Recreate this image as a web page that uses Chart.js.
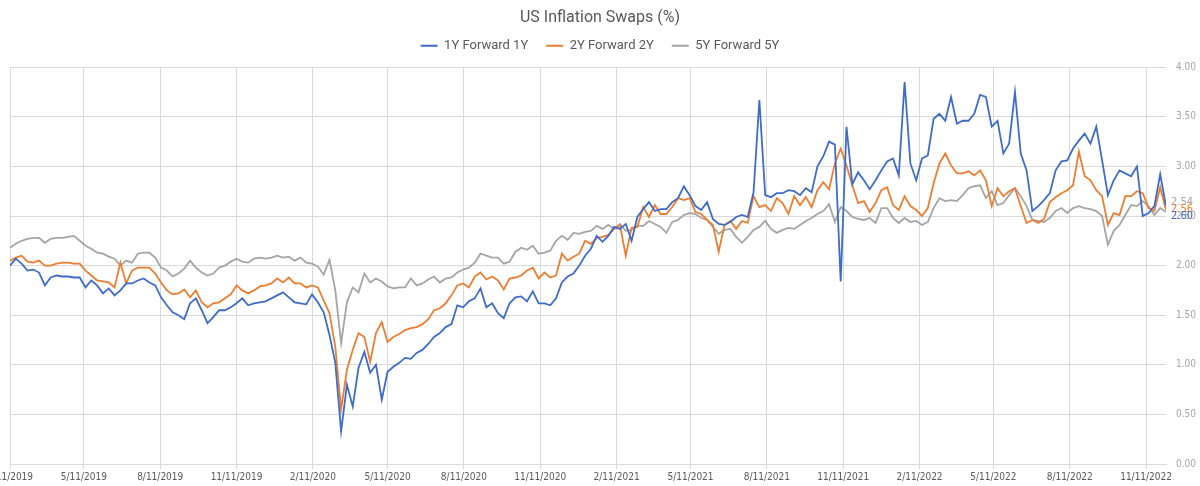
<!DOCTYPE html>
<html>
<head>
<meta charset="utf-8">
<script src="https://cdn.jsdelivr.net/npm/chart.js@4.4.1/dist/chart.umd.min.js"></script>
<style>
html,body{margin:0;padding:0;background:#fff;}
#swapChart{display:block;}
</style>
</head>
<body>
<canvas id="swapChart" width="1200" height="486"></canvas>
<script>

// weekly fixings, first week starts here
const startDate = "2019-02-11";

const seriesNames = ["1Y Forward 1Y", "2Y Forward 2Y", "5Y Forward 5Y"];

const oneYFwd1Y = [
2.00,2.07,2.02,1.95,1.96,1.93,1.80,1.88,1.90,1.89,
1.89,1.88,1.88,1.78,1.85,1.80,1.72,1.77,1.70,1.75,
1.82,1.82,1.85,1.87,1.83,1.80,1.68,1.60,1.53,1.50,
1.46,1.62,1.67,1.55,1.42,1.48,1.55,1.55,1.58,1.62,
1.67,1.60,1.62,1.63,1.64,1.67,1.70,1.73,1.68,1.63,
1.62,1.61,1.71,1.63,1.53,1.30,1.02,0.33,0.80,0.58,
0.97,1.13,0.92,1.00,0.65,0.93,0.98,1.02,1.07,1.06,
1.12,1.15,1.21,1.28,1.32,1.38,1.41,1.60,1.58,1.64,
1.67,1.77,1.58,1.62,1.52,1.47,1.62,1.68,1.69,1.64,
1.74,1.62,1.62,1.60,1.67,1.83,1.89,1.92,2.00,2.10,
2.17,2.30,2.24,2.30,2.39,2.37,2.42,2.25,2.49,2.57,
2.64,2.55,2.57,2.57,2.64,2.68,2.80,2.71,2.60,2.56,
2.64,2.47,2.42,2.41,2.44,2.49,2.51,2.49,2.74,3.67,
2.71,2.69,2.73,2.73,2.76,2.75,2.71,2.78,2.74,3.00,
3.10,3.25,3.22,1.84,3.40,2.82,2.94,2.86,2.77,2.86,
2.96,3.05,3.08,2.91,3.85,3.03,2.86,3.08,3.11,3.48,
3.53,3.46,3.70,3.43,3.46,3.46,3.53,3.72,3.70,3.40,
3.46,3.13,3.23,3.75,3.13,2.96,2.55,2.60,2.66,2.73,
2.96,3.05,3.06,3.18,3.26,3.33,3.23,3.40,3.06,2.71,
2.86,2.96,2.93,2.90,3.00,2.50,2.53,2.60,2.92,2.60
];

const twoYFwd2Y = [
2.05,2.08,2.10,2.04,2.03,2.05,2.00,2.00,2.02,2.03,
2.03,2.02,2.02,1.95,1.90,1.85,1.84,1.83,1.78,2.03,
1.82,1.95,1.98,1.98,1.98,1.92,1.83,1.75,1.71,1.72,
1.76,1.68,1.75,1.63,1.58,1.62,1.63,1.67,1.71,1.80,
1.75,1.72,1.75,1.79,1.80,1.82,1.87,1.83,1.88,1.82,
1.82,1.78,1.80,1.78,1.65,1.52,1.18,0.55,0.95,1.15,
1.32,1.28,1.03,1.32,1.43,1.23,1.28,1.31,1.35,1.37,
1.38,1.41,1.46,1.55,1.57,1.62,1.70,1.80,1.82,1.78,
1.89,1.93,1.86,1.89,1.85,1.76,1.87,1.88,1.90,1.95,
1.98,1.87,1.93,1.88,1.90,2.12,2.05,2.09,2.12,2.25,
2.22,2.28,2.29,2.31,2.37,2.41,2.10,2.38,2.39,2.59,
2.49,2.61,2.52,2.52,2.59,2.68,2.66,2.68,2.54,2.52,
2.46,2.41,2.14,2.41,2.45,2.37,2.45,2.43,2.70,2.59,
2.61,2.55,2.68,2.63,2.52,2.70,2.61,2.69,2.59,2.76,
2.84,2.77,3.03,3.18,3.01,2.81,2.63,2.65,2.54,2.63,
2.76,2.79,2.61,2.56,2.70,2.60,2.56,2.50,2.58,2.83,
3.03,3.13,3.01,2.93,2.93,2.95,2.91,2.96,2.86,2.60,
2.78,2.70,2.75,2.78,2.60,2.43,2.46,2.43,2.47,2.64,
2.69,2.73,2.76,2.81,3.15,2.90,2.86,2.76,2.70,2.41,
2.53,2.51,2.70,2.70,2.75,2.73,2.58,2.55,2.79,2.56
];

const fiveYFwd5Y = [
2.18,2.22,2.25,2.27,2.28,2.28,2.23,2.27,2.28,2.28,
2.29,2.30,2.25,2.20,2.17,2.13,2.12,2.09,2.07,2.00,
2.05,2.03,2.12,2.13,2.13,2.08,1.98,1.95,1.89,1.92,
1.97,2.05,1.98,1.93,1.90,1.92,1.98,2.00,2.04,2.07,
2.04,2.03,2.07,2.08,2.07,2.08,2.10,2.08,2.09,2.05,
2.08,2.03,2.02,1.99,1.91,2.06,1.75,1.22,1.63,1.78,
1.73,1.92,1.83,1.87,1.84,1.79,1.77,1.78,1.78,1.87,
1.80,1.82,1.86,1.89,1.83,1.87,1.88,1.93,1.96,1.98,
2.03,2.12,2.10,2.08,2.08,2.02,2.04,2.14,2.18,2.16,
2.20,2.12,2.13,2.15,2.25,2.30,2.26,2.33,2.32,2.34,
2.35,2.40,2.37,2.41,2.37,2.42,2.35,2.36,2.40,2.40,
2.45,2.42,2.39,2.33,2.44,2.46,2.51,2.53,2.52,2.48,
2.46,2.39,2.32,2.36,2.37,2.29,2.23,2.29,2.36,2.39,
2.45,2.37,2.33,2.36,2.38,2.37,2.41,2.45,2.48,2.52,
2.55,2.62,2.44,2.59,2.55,2.49,2.47,2.46,2.48,2.43,
2.58,2.58,2.48,2.43,2.48,2.44,2.45,2.41,2.44,2.58,
2.68,2.65,2.66,2.65,2.71,2.78,2.80,2.81,2.68,2.75,
2.61,2.63,2.71,2.78,2.70,2.60,2.46,2.45,2.44,2.48,
2.55,2.58,2.53,2.58,2.60,2.58,2.57,2.55,2.50,2.21,
2.35,2.41,2.51,2.61,2.60,2.65,2.60,2.51,2.58,2.54
];

const tickDates = [
"2019-02-11","2019-05-11","2019-08-11","2019-11-11",
"2020-02-11","2020-05-11","2020-08-11","2020-11-11",
"2021-02-11","2021-05-11","2021-08-11","2021-11-11",
"2022-02-11","2022-05-11","2022-08-11","2022-11-11"
];

const tickLabels = [
"2/11/2019","5/11/2019","8/11/2019","11/11/2019",
"2/11/2020","5/11/2020","8/11/2020","11/11/2020",
"2/11/2021","5/11/2021","8/11/2021","11/11/2021",
"2/11/2022","5/11/2022","8/11/2022","11/11/2022"
];

const colors = ["#3f6bc9", "#ed7d31", "#a5a5a5"];

const narrowFont = "'Liberation Sans Narrow', 'DejaVu Sans Condensed', Roboto, sans-serif";

function dayNum(d){
return (Date.parse(d) - Date.parse(startDate)) / 86400000;
}

// one point per week
function toPoints(values){
return values.map((v, i) => ({ x: i * 7, y: v }));
}

const endLabels = {
id: "endLabels",
afterDatasetsDraw(chart){
const { ctx, chartArea } = chart;
const ys = chart.data.datasets.map((ds, i) => {
const pts = chart.getDatasetMeta(i).data;
return pts[pts.length - 1].y;
});
const mid = ys.reduce((a, b) => a + b, 0) / ys.length;
const order = [2, 1, 0];
ctx.save();
ctx.font = "11px " + narrowFont;
ctx.textBaseline = "middle";
order.forEach((di, k) => {
const ds = chart.data.datasets[di];
const last = ds.data[ds.data.length - 1].y;
ctx.fillStyle = ds.borderColor;
ctx.fillText(last.toFixed(2), chartArea.right + 5, mid + (k - 1) * 7);
});
ctx.restore();
}
};

function createChart(){

const ctx = document.getElementById("swapChart");

const allSeries = [oneYFwd1Y, twoYFwd2Y, fiveYFwd5Y];

new Chart(ctx, {
type: "line",
data: {
datasets: allSeries.map((vals, i) => ({
label: seriesNames[i],
data: toPoints(vals),
borderColor: colors[i],
backgroundColor: colors[i],
borderWidth: 1.8,
pointRadius: 0,
tension: 0,
fill: false
}))
},
options: {
responsive: false,
animation: false,
devicePixelRatio: 1,
layout: {
padding: { top: 8, right: 0, bottom: 1, left: 0 }
},
plugins: {
title: {
display: true,
text: "US Inflation Swaps (%)",
color: "#595959",
font: { family: "Roboto", size: 16, weight: "normal" },
padding: { top: 0, bottom: -6 }
},
// empty spacer between legend and plot
subtitle: {
display: true,
text: "",
weight: 500,
font: { size: 1, lineHeight: 1 },
padding: { top: 0, bottom: 4 }
},
legend: {
labels: {
boxWidth: 17,
boxHeight: 2,
padding: 18,
color: "#595959",
font: { family: "Roboto", size: 13 },
generateLabels(chart){
const items = Chart.defaults.plugins.legend.labels.generateLabels(chart);
return items.map(it => ({ ...it, lineWidth: 0, fillStyle: it.strokeStyle }));
}
}
},
tooltip: { enabled: false }
},
scales: {
x: {
type: "linear",
min: 0,
max: (oneYFwd1Y.length - 1) * 7,
afterBuildTicks(axis){
axis.ticks = tickDates.map(d => ({ value: dayNum(d) }));
},
afterFit(axis){
// first label is cut by the left edge, like the original
axis.paddingLeft = 10;
axis.paddingRight = 0;
},
ticks: {
autoSkip: false,
maxRotation: 0,
padding: 2,
color: "#595959",
font: { family: narrowFont, size: 10 },
callback: (v, i) => tickLabels[i]
},
grid: { color: "#d9d9d9", tickLength: 5 },
border: { color: "#d9d9d9" }
},
y: {
position: "right",
min: 0,
max: 4,
afterFit(axis){
axis.width = 34;
},
ticks: {
stepSize: 0.5,
padding: 10,
color: "#a6a6a6",
font: { family: narrowFont, size: 10 },
callback: v => v.toFixed(2)
},
grid: { color: "#d9d9d9", drawTicks: false },
border: { display: false }
}
}
},
plugins: [endLabels]
});

}

createChart();
</script>
</body>
</html>
